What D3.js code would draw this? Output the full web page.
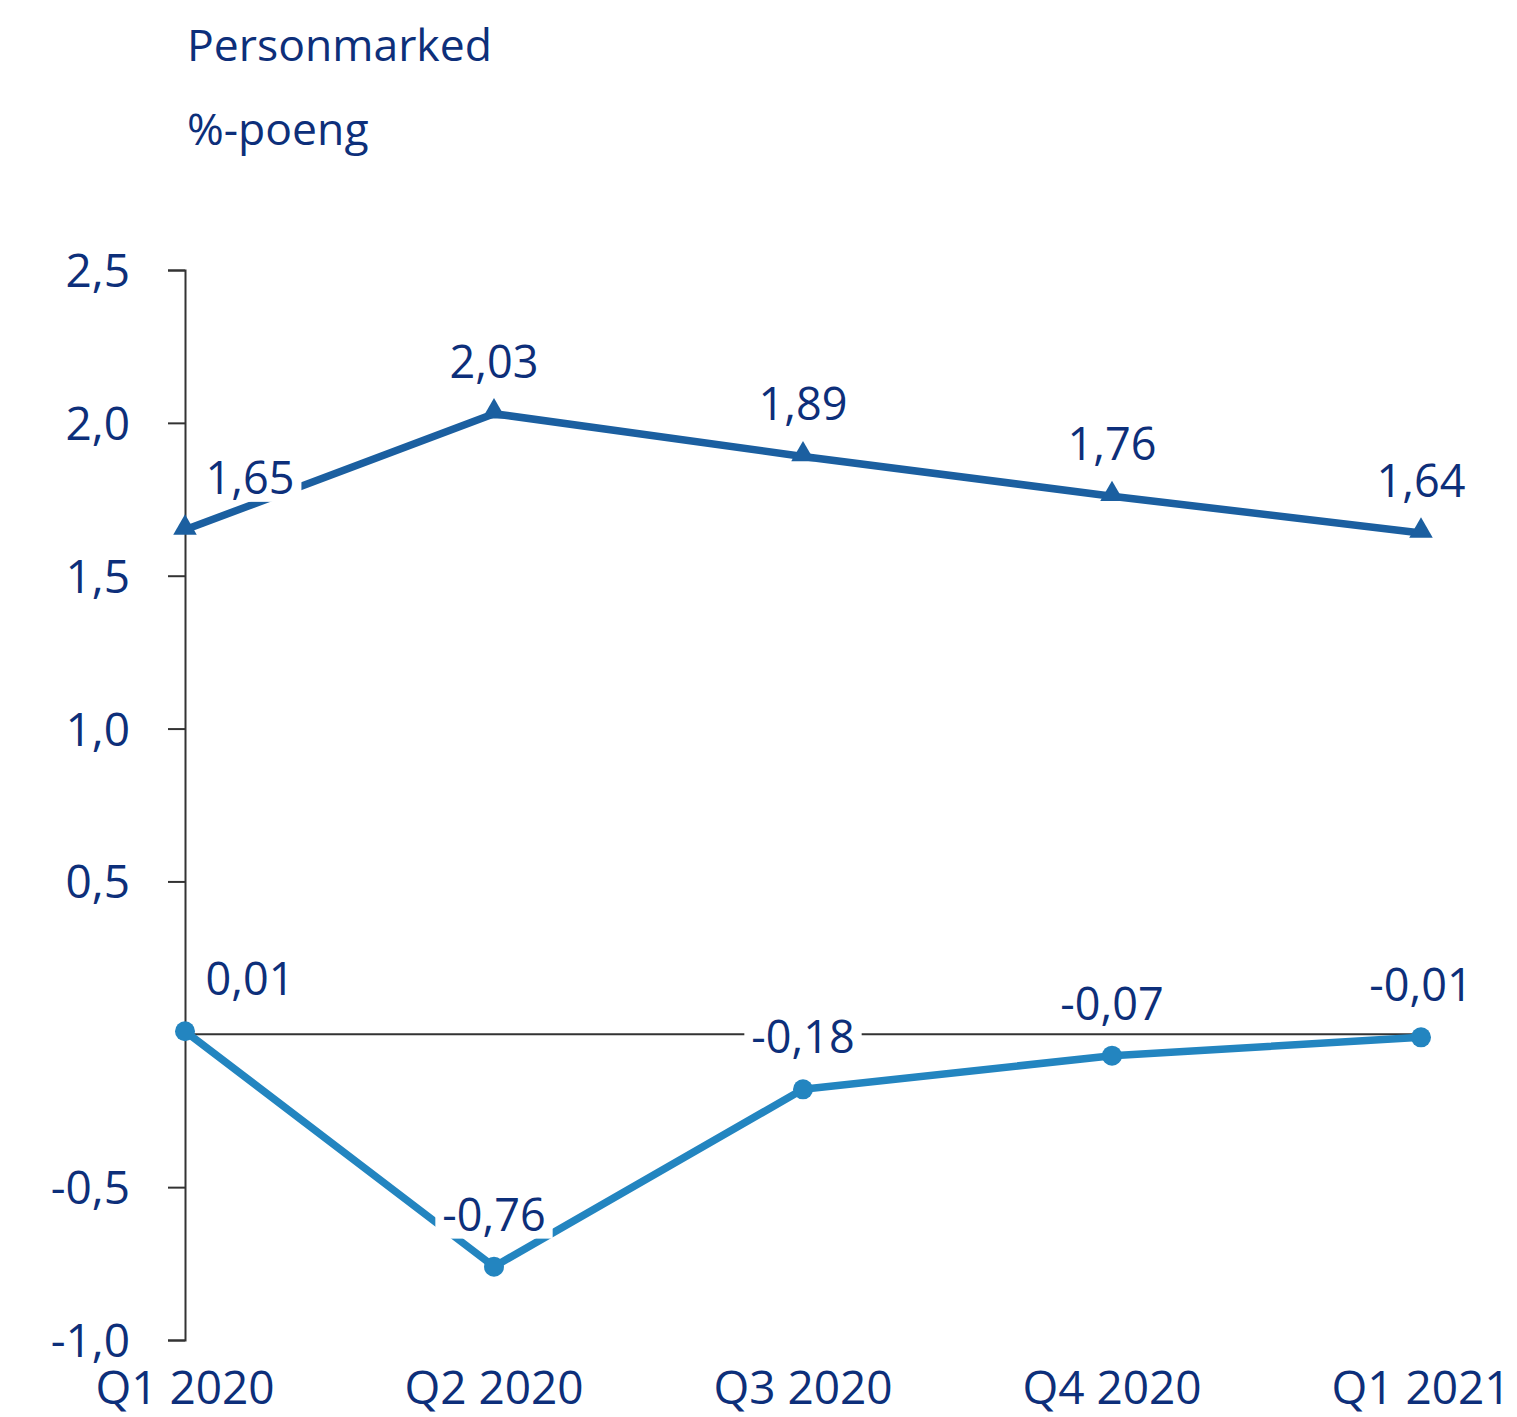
<!DOCTYPE html>
<html>
<head>
<meta charset="utf-8">
<script src="https://cdn.jsdelivr.net/npm/d3@7"></script>
<style>
  body { margin: 0; background: #fff; }
  svg { display: block; }
  text { font-family: "Open Sans", sans-serif; fill: #0d2f7a; }
</style>
</head>
<body>
<svg id="chart"></svg>
<script>
// data
const quarters = ['Q1 2020', 'Q2 2020', 'Q3 2020', 'Q4 2020', 'Q1 2021']
const seriesTop = [1.65, 2.03, 1.89, 1.76, 1.64]
const seriesBottom = [0.01, -0.76, -0.18, -0.07, -0.01]
const yTicks = [-1.0, -0.5, 0, 0.5, 1.0, 1.5, 2.0, 2.5]

const width = 1517,
  height = 1417

const svg = d3.select('#chart')
  .attr('width', width)
  .attr('height', height)

const x = d3.scalePoint()
  .domain(quarters)
  .range([185, 1421])

const y = d3.scaleLinear()
  .domain([-1, 2.5])
  .range([1340, 270])

const fmt = v => d3.format('.1f')(v).replace('.', ',').replace('−', '-')
const fmt2 = v => d3.format('.2f')(v).replace('.', ',').replace('−', '-')

// titles
svg.append('text')
  .attr('x', 187).attr('y', 61)
  .style('font-size', '44.5px')
  .text('Personmarked')
svg.append('text')
  .attr('x', 187).attr('y', 145)
  .style('font-size', '44.5px')
  .text('%-poeng')

// y axis
const yAxis = d3.axisLeft(y)
  .tickValues(yTicks)
  .tickSize(17)
  .tickFormat(d => d === 0 ? '' : fmt(d))

const gy = svg.append('g')
  .attr('transform', `translate(${x(quarters[0])},0)`)
  .call(yAxis)
gy.select('.domain').attr('stroke', '#333').attr('stroke-width', 2)
gy.selectAll('.tick line').attr('stroke', '#333').attr('stroke-width', 2)
gy.selectAll('.tick text')
  .attr('x', -55)
  .attr('dy', '0.36em')
  .style('font-size', '46px')
  .attr('fill', '#0d2f7a')
gy.selectAll('.tick').filter(d => d === 0).select('line').remove()

// zero line
svg.append('line')
  .attr('x1', x(quarters[0])).attr('x2', x(quarters[quarters.length - 1]))
  .attr('y1', y(0)).attr('y2', y(0))
  .attr('stroke', '#333').attr('stroke-width', 2)

// x labels
svg.selectAll('.xlab')
  .data(quarters)
  .enter()
  .append('text')
  .attr('class', 'xlab')
  .attr('x', d => x(d))
  .attr('y', 1404)
  .attr('text-anchor', 'middle')
  .style('font-size', '46px')
  .text(d => d)

const line = d3.line()
  .x((d, i) => x(quarters[i]))
  .y(d => y(d))

function drawSeries(data, color, marker) {
  svg.append('path')
    .datum(data)
    .attr('fill', 'none')
    .attr('stroke', color)
    .attr('stroke-width', 7.5)
    .attr('stroke-linejoin', 'round')
    .attr('d', line)

  if (marker === 'triangle') {
    const tri = d3.symbol().type(d3.symbolTriangle).size(240)
    svg.selectAll(null)
      .data(data)
      .enter()
      .append('path')
      .attr('d', tri)
      .attr('transform', (d, i) => `translate(${x(quarters[i])},${y(d) - 2})`)
      .attr('fill', color)
  } else {
    svg.selectAll(null)
      .data(data)
      .enter()
      .append('circle')
      .attr('cx', (d, i) => x(quarters[i]))
      .attr('cy', d => y(d))
      .attr('r', 10)
      .attr('fill', color)
  }

  // labels with white box
  const lab = svg.selectAll(null)
    .data(data)
    .enter()
    .append('g')
    .attr('transform', (d, i) => `translate(${x(quarters[i]) + (i === 0 ? 65 : 0)},${y(d) - 36})`)
  lab.append('text')
    .attr('text-anchor', 'middle')
    .style('font-size', '45px')
    .text(d => fmt2(d))
  lab.each(function() {
    const g = d3.select(this)
    const bb = g.select('text').node().getBBox()
    g.insert('rect', 'text')
      .attr('x', bb.x - 7).attr('y', bb.y - 2)
      .attr('width', bb.width + 14).attr('height', 10 - bb.y)
      .attr('fill', '#fff')
  })
}

drawSeries(seriesTop, '#1b5fa0', 'triangle')
drawSeries(seriesBottom, '#2385c0', 'circle')
</script>
</body>
</html>
